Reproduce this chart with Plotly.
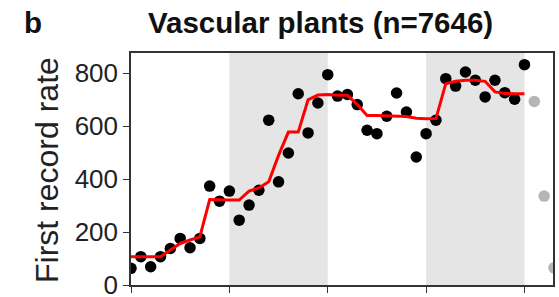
import plotly.graph_objects as go

# ---- data ----
x_black = list(range(41))
rate_black = [63, 107, 69, 107, 138, 176, 141, 176, 374, 317,
              355, 245, 302, 358, 623, 390, 499, 723, 575, 688,
              795, 714, 720, 682, 585, 572, 638, 726, 654, 484,
              572, 623, 780, 752, 805, 774, 711, 774, 727, 702,
              833]
x_gray = [41, 42, 43]
rate_gray = [694, 336, 65]
trend = [107, 107, 107, 107, 132, 157, 170, 182, 323, 321,
         321, 321, 355, 367, 390, 490, 578, 578, 700, 718,
         720, 717, 717, 682, 641, 641, 640, 640, 637, 630,
         628, 629, 761, 770, 774, 774, 770, 730, 724, 723,
         723]
bands = [(10, 20), (30, 40)]
x_ticks = [0, 10, 20, 30, 40]
y_ticks = [0, 200, 400, 600, 800]

title_text = "Vascular plants (n=7646)"
panel_label = "b"
y_title = "First record rate"

# ---- layout geometry ----
W, H = 559, 297
L, R, T, B = 131, 6, 53, 12
pw, ph = W - L - R, H - T - B

def px_x(px):
    return (px - L) / pw

def px_y(py):
    return (H - B - py) / ph

FONT = "Liberation Sans, Arial, Helvetica, sans-serif"

fig = go.Figure()

fig.add_trace(go.Scatter(x=x_gray, y=rate_gray, mode="markers",
                         marker=dict(size=11.5, color="#b5b5b5"),
                         showlegend=False, hoverinfo="skip"))
fig.add_trace(go.Scatter(x=x_black, y=rate_black, mode="markers",
                         marker=dict(size=11.5, color="#000000"),
                         showlegend=False))
fig.add_trace(go.Scatter(x=x_black, y=trend, mode="lines",
                         line=dict(color="#ff0000", width=3),
                         showlegend=False))

shapes = []
for a, b in bands:
    shapes.append(dict(type="rect", xref="x", yref="paper", x0=a, x1=b,
                       y0=0, y1=1, fillcolor="#e5e5e5", line=dict(width=0),
                       layer="below"))

annotations = [
    dict(text="<b>%s</b>" % title_text, xref="paper", yref="paper",
         x=px_x(320.5), y=px_y(23), xanchor="center", yanchor="middle",
         showarrow=False, font=dict(family=FONT, size=29.5, color="#111")),
    dict(text="<b>%s</b>" % panel_label, xref="paper", yref="paper",
         x=px_x(22), y=px_y(23), xanchor="left", yanchor="middle",
         showarrow=False, font=dict(family=FONT, size=29.5, color="#111")),
    dict(text=y_title, xref="paper", yref="paper",
         x=px_x(47), y=px_y(170), xanchor="center", yanchor="middle",
         textangle=-90, showarrow=False,
         font=dict(family=FONT, size=32, color="#222")),
]

fig.update_layout(
    width=W, height=H,
    margin=dict(l=L, r=R, t=T, b=B, pad=0, autoexpand=False),
    paper_bgcolor="white", plot_bgcolor="white",
    shapes=shapes, annotations=annotations,
    font=dict(family=FONT, color="#222"),
    xaxis=dict(range=[0, 42.9], tickvals=x_ticks, showticklabels=False,
               ticks="outside", ticklen=6, tickwidth=1.3, tickcolor="#333",
               showline=True, linecolor="#333", linewidth=1.5, mirror=True,
               showgrid=False, zeroline=False, automargin=False),
    yaxis=dict(range=[0, 877], tickvals=y_ticks,
               ticks="outside", ticklen=6, tickwidth=1.3, tickcolor="#333",
               tickfont=dict(family=FONT, size=26, color="#222"),
               ticklabeloverflow="allow",
               showline=True, linecolor="#333", linewidth=1.5, mirror=True,
               showgrid=False, zeroline=False, automargin=False),
)

fig.write_html("out.html",
               config={"displayModeBar": False},
               post_script="document.body.style.margin='0';"
                           "document.body.style.padding='0';")
